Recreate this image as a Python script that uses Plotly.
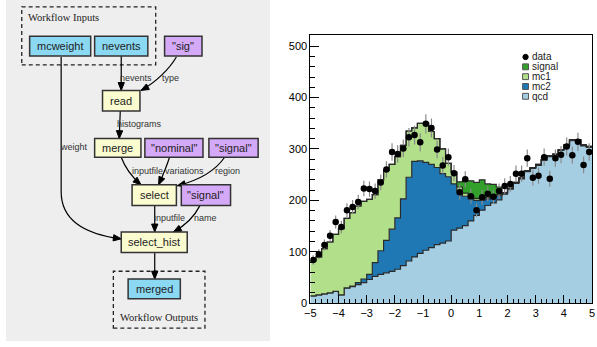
import numpy as np
import plotly.graph_objects as go

W, H = 597, 347

# ---------------- histogram data ----------------
bin_edges = np.round(np.linspace(-5, 5, 51), 2)
bin_centers = np.round(bin_edges[:-1] + 0.1, 2)

data = [84, 95, 113, 131, 158, 148, 181, 187, 197, 223,
        222, 218, 235, 260, 294, 290, 301, 323, 327, 313,
        349, 341, 299, 268, 284, 253, 216, 241, 208, 181,
        206, 213, 207, 218, 228, 232, 252, 252, 282, 244,
        248, 284, 242, 282, 289, 305, 288, 314, 269, 294]
qcd = [14, 16, 18, 20, 23, 16, 29, 32, 36, 40,
       46, 52, 56, 59, 62, 66, 73, 82, 90, 97,
       103, 108, 114, 117, 121, 142, 146, 151, 160, 171,
       181, 190, 195, 201, 212, 222, 233, 242, 256, 262,
       268, 278, 285, 288, 297, 306, 316, 316, 306, 303]
mc2 = [0, 0, 0, 0, 0, 0, 1, 1, 4, 7,
       10, 27, 46, 63, 82, 100, 130, 163, 186, 180,
       171, 162, 150, 135, 125, 90, 72, 57, 43, 29,
       19, 13, 11, 8, 2, 1, 1, 1, 1, 1,
       1, 1, 1, 1, 1, 1, 1, 1, 1, 1]
mc1 = [68, 74, 88, 99, 111, 129, 135, 143, 149, 151,
       146, 132, 138, 137, 126, 119, 104, 90, 65, 73,
       76, 64, 56, 48, 26, 23, 8, 6, 5, 4,
       3, 3, 2, 2, 1, 1, 1, 1, 1, 1,
       1, 1, 1, 1, 1, 1, 1, 1, 1, 1]
signal = [0] * 26 + [10, 24, 30, 31, 37, 26, 23, 15] + [0] * 16

stack_names = ["qcd", "mc2", "mc1", "signal"]
stack_values = [qcd, mc2, mc1, signal]
colors = {"qcd": "#a6cee3", "mc2": "#1f78b4", "mc1": "#b2df8a", "signal": "#33a02c"}
legend_order = ["data", "signal", "mc1", "mc2", "qcd"]

# ---------------- workflow graph ----------------
nodes = {
    "mcweight": ("mcweight", "input"),
    "nevents": ("nevents", "input"),
    "sig": ('"sig"', "const"),
    "read": ("read", "task"),
    "merge": ("merge", "task"),
    "nominal": ('"nominal"', "const"),
    "signal1": ('"signal"', "const"),
    "select": ("select", "task"),
    "signal2": ('"signal"', "const"),
    "select_hist": ("select_hist", "task"),
    "merged": ("merged", "input"),
}
edge_labels = ["nevents", "type", "histograms", "weight", "inputfile",
               "variations", "region", "inputfile", "name", None]
cluster_labels = ["Workflow Inputs", "Workflow Outputs"]

# layout geometry (pixels)
node_box = {
    "mcweight": (24, 37, 86, 57), "nevents": (90, 37, 144, 57), "sig": (161, 37, 199, 57),
    "read": (98, 92, 136, 113), "merge": (90, 141, 137, 160), "nominal": (141, 141, 200, 160),
    "signal1": (206, 141, 256, 160), "select": (128, 188, 173, 209), "signal2": (178, 188, 228, 209),
    "select_hist": (117, 236, 184, 257), "merged": (124, 284, 177, 304),
}
kind_fill = {"input": "#8ad8f2", "const": "#d4a9f7", "task": "#fbfbd0"}
cluster_box = [(16, 7, 152, 66), (109, 276, 202, 334)]
cluster_label_pos = [(58, 18), (155.5, 323)]
edge_paths = [
    [(117, 57), (117, 92)],
    [(173, 58), (166, 70), (152, 84), (137, 92)],
    [(116, 113), (115, 141)],
    [(56, 58), (56, 195), (56, 227), (86, 239), (117, 243)],
    [(117, 160), (121, 171), (129, 181), (137, 188)],
    [(166, 160), (163, 170), (159, 179), (155, 188)],
    [(222, 160), (213, 173), (198, 183), (174, 189)],
    [(151, 209), (151, 236)],
    [(197, 209), (191, 221), (181, 230), (170, 236)],
    [(151, 257), (151, 284)],
]
edge_label_pos = [(132, 79), (167, 79), (136, 126.5), (69.5, 150), (144, 174),
                  (181, 174), (224.5, 174), (165.5, 222), (202.5, 222), None]


def px(x):
    return x / W


def py(y):
    return 1 - y / H


def pt(p):
    return f"{px(p[0]):.5f},{py(p[1]):.5f}"


fig = go.Figure()

# stacked histograms as step-filled areas
xs = np.append(bin_edges[:-1], bin_edges[-1])
cum = np.zeros(len(qcd))
for i, (name, vals) in enumerate(zip(stack_names, stack_values)):
    cum = cum + np.array(vals, dtype=float)
    ys = np.append(cum, cum[-1])
    fig.add_trace(go.Scatter(
        x=xs, y=ys, mode="lines", line=dict(shape="hv", color="#2a2a2a", width=1.2),
        fill="tozeroy" if i == 0 else "tonexty", fillcolor=colors[name], name=name,
        hoverinfo="skip"))

fig.add_trace(go.Scatter(
    x=bin_centers, y=data, mode="markers", name="data",
    marker=dict(color="black", size=6.5),
    error_y=dict(type="data", array=np.sqrt(np.array(data, dtype=float)),
                 color="#8a8a8a", thickness=1.2, width=0)))

fig.update_xaxes(domain=[309 / W, 595 / W], range=[-5, 5], tickvals=list(range(-5, 6)),
                 ticks="inside", ticklen=8, tickcolor="black", showgrid=False, zeroline=False,
                 showline=True, linecolor="black", linewidth=1, mirror=True,
                 ticklabeloverflow="allow",
                 minor=dict(dtick=0.2, tick0=-5, ticks="inside", ticklen=4, tickcolor="black"),
                 tickfont=dict(size=11, color="black", family="Liberation Sans, Arial"))
fig.update_yaxes(domain=[1 - 308.5 / H, 1 - 36 / H], range=[0, 521],
                 tickvals=[0, 100, 200, 300, 400, 500],
                 ticks="inside", ticklen=9, tickcolor="black", showgrid=False, zeroline=False,
                 showline=True, linecolor="black", linewidth=1, mirror=True,
                 ticklabeloverflow="allow",
                 minor=dict(dtick=20, tick0=0, ticks="inside", ticklen=5, tickcolor="black"),
                 tickfont=dict(size=11, color="black", family="Liberation Sans, Arial"))

shapes = []
annotations = []

# left panel background
shapes.append(dict(type="rect", xref="paper", yref="paper", x0=0, x1=px(268), y0=0, y1=1,
                   fillcolor="#eeeeee", line=dict(width=0), layer="below"))

# clusters
for (x0, y0, x1, y1), lab, (lx, ly) in zip(cluster_box, cluster_labels, cluster_label_pos):
    shapes.append(dict(type="rect", xref="paper", yref="paper", x0=px(x0), x1=px(x1),
                       y0=py(y1), y1=py(y0), line=dict(color="#222", width=1.3, dash="4px,3px")))
    annotations.append(dict(x=px(lx), y=py(ly), xref="paper", yref="paper", text=lab,
                            showarrow=False, xanchor="center", yanchor="middle",
                            font=dict(family="Liberation Serif, Times New Roman", size=10.5,
                                      color="#222")))

# edges
for path, lab, lpos in zip(edge_paths, edge_labels, edge_label_pos):
    if len(path) == 2:
        d = f"M {pt(path[0])} L {pt(path[1])}"
    elif len(path) == 4:
        d = f"M {pt(path[0])} C {pt(path[1])} {pt(path[2])} {pt(path[3])}"
    else:
        d = f"M {pt(path[0])} L {pt(path[1])} C {pt(path[2])} {pt(path[3])} {pt(path[4])}"
    shapes.append(dict(type="path", xref="paper", yref="paper", path=d,
                       line=dict(color="black", width=1.2)))
    tip = np.array(path[-1], dtype=float)
    frm = np.array(path[-2], dtype=float)
    v = tip - frm
    v = v / np.hypot(*v)
    base = tip - v * 8
    perp = np.array([-v[1], v[0]]) * 3.2
    a, b = base + perp, base - perp
    shapes.append(dict(type="path", xref="paper", yref="paper",
                       path=f"M {pt(tip)} L {pt(a)} L {pt(b)} Z",
                       fillcolor="black", line=dict(color="black", width=1)))
    if lab:
        annotations.append(dict(x=px(lpos[0]), y=py(lpos[1]), xref="paper", yref="paper",
                                text=lab, showarrow=False, xanchor="center", yanchor="middle",
                                font=dict(family="Liberation Sans, Arial", size=9, color="#333")))

# nodes
for key, (label, kind) in nodes.items():
    x0, y0, x1, y1 = node_box[key]
    shapes.append(dict(type="rect", xref="paper", yref="paper", x0=px(x0), x1=px(x1),
                       y0=py(y1), y1=py(y0), fillcolor=kind_fill[kind],
                       line=dict(color="#333", width=1.5)))
    annotations.append(dict(x=px((x0 + x1) / 2), y=py((y0 + y1) / 2), xref="paper", yref="paper",
                            text=label, showarrow=False, xanchor="center", yanchor="middle",
                            font=dict(family="Liberation Sans, Arial", size=11, color="#222")))

# legend (drawn manually for compact ROOT-like spacing)
leg_x, leg_y0, leg_dy = 527.5, 58, 10
for j, name in enumerate(legend_order):
    yc = leg_y0 + j * leg_dy
    if name == "data":
        shapes.append(dict(type="circle", xref="paper", yref="paper", x0=px(leg_x - 2.7),
                           x1=px(leg_x + 2.7), y0=py(yc + 2.7), y1=py(yc - 2.7),
                           fillcolor="black", line=dict(color="black", width=1)))
    else:
        shapes.append(dict(type="rect", xref="paper", yref="paper", x0=px(leg_x - 3),
                           x1=px(leg_x + 3), y0=py(yc + 3), y1=py(yc - 3),
                           fillcolor=colors[name], line=dict(color="#555", width=1)))
    annotations.append(dict(x=px(leg_x + 4.5), y=py(yc), xref="paper", yref="paper", text=name,
                            showarrow=False, xanchor="left", yanchor="middle",
                            font=dict(family="Liberation Sans, Arial", size=10, color="#222")))

fig.update_layout(width=W, height=H, margin=dict(l=0, r=0, t=0, b=0),
                  paper_bgcolor="white", plot_bgcolor="white", showlegend=False,
                  shapes=shapes, annotations=annotations)

fig.write_html("out.html", config={"displayModeBar": False},
               post_script="document.body.style.margin='0';document.body.style.padding='0';")
